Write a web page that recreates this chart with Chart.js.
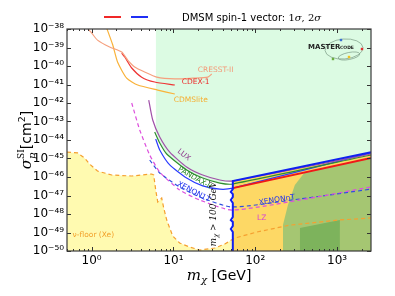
<!DOCTYPE html>
<html>
<head>
<meta charset="utf-8">
<script src="https://cdn.jsdelivr.net/npm/chart.js@4.4.1/dist/chart.umd.min.js"></script>
<style>
  html, body { margin: 0; padding: 0; background: #fff; }
</style>
</head>
<body>
<canvas id="chart" width="395" height="296"></canvas>
<script>
// axis ticks
const xTicks = [1, 10, 100, 1000];
const xTickLabels = ["10⁰", "10¹", "10²", "10³"];
const yTicks = [1e-50, 1e-49, 1e-48, 1e-47, 1e-46, 1e-45, 1e-44, 1e-43, 1e-42, 1e-41, 1e-40, 1e-39, 1e-38];
const yTickLabels = ["10⁻⁵⁰", "10⁻⁴⁹", "10⁻⁴⁸", "10⁻⁴⁷", "10⁻⁴⁶", "10⁻⁴⁵", "10⁻⁴⁴", "10⁻⁴³", "10⁻⁴²", "10⁻⁴¹", "10⁻⁴⁰", "10⁻³⁹", "10⁻³⁸"];

// experimental limits (mass in GeV, cross-section in cm^2)
const cresstMass = [0.89, 1.0, 1.18, 1.66, 2.33, 2.76, 3.36, 4.45, 6.25, 10.4, 17.2, 26.3, 29.4];
const cresstSigma = [1.1e-38, 6.1e-39, 2.5e-39, 1.06e-39, 5.7e-40, 2.1e-40, 8.8e-41, 4.7e-41, 2.5e-41, 2.0e-41, 2.2e-41, 2.5e-41, 3.7e-41];

const cdexMass = [2.33, 2.54, 3.09, 4.09, 5.9, 10.4];
const cdexSigma = [5.0e-40, 3.06e-40, 7.8e-41, 2.5e-41, 1.36e-41, 9.4e-42];

const cdmsMass = [1.48, 1.81, 2.08, 2.68, 3.66, 6.43, 10.4];
const cdmsSigma = [1.65e-38, 1.4e-39, 1.6e-40, 2.2e-41, 9.4e-42, 5.0e-42, 3.06e-42];

const luxMass = [4.99, 5.58, 6.8, 9.01, 14.5, 22.8, 36.9, 53.2, 2600];
const luxSigma = [1.45e-42, 1.2e-43, 1.45e-44, 2.2e-45, 3.5e-46, 1.28e-46, 6.9e-47, 6.1e-47, 1.75e-45];

const pandaMass = [5.9, 6.8, 8.28, 14.5, 22.8, 36.9, 53.2, 2600];
const pandaSigma = [2.7e-44, 6.9e-45, 1.75e-45, 2.4e-46, 8.8e-47, 4.7e-47, 4.2e-47, 1.55e-45];

const xe1tMass = [6.07, 6.8, 9.01, 14.5, 22.8, 36.9, 53.2, 2600];
const xe1tSigma = [1.13e-44, 2.9e-45, 4.5e-46, 8.8e-47, 3.3e-47, 2.2e-47, 2.5e-47, 2.0e-45];

// projected sensitivities
const lzMass = [3.09, 3.87, 5.13, 6.8, 11.9, 21.0, 51.7, 351, 2600];
const lzSigma = [1.0e-42, 3.5e-44, 1.55e-45, 1.86e-46, 2.0e-47, 5.7e-48, 1.64e-48, 5.7e-48, 2.9e-47];

const xentMass = [5.13, 6.8, 11.9, 21.0, 51.7, 351, 2600];
const xentSigma = [8.3e-46, 1.64e-46, 2.9e-47, 8.3e-48, 2.4e-48, 6.5e-48, 2.2e-47];

// neutrino floor (Xe)
const nuMass = [0.5, 0.674, 0.821, 0.945, 1.18, 1.76, 3.09, 5.42, 5.74, 6.07, 6.43, 6.8, 7.19, 7.61, 8.28, 9.8, 11.9, 15.8, 21.0, 32.0, 42.5, 56.3, 105, 265, 1026, 2600];
const nuSigma = [2.2e-45, 2.0e-45, 1.06e-45, 5.0e-46, 2.1e-46, 1.28e-46, 1.13e-46, 1.45e-46, 1.28e-46, 2.0e-47, 4.5e-48, 5.7e-48, 7.3e-48, 2.1e-48, 4.7e-49, 6.5e-50, 2.7e-50, 1.64e-50, 1.13e-50, 1.45e-50, 2.4e-50, 5.0e-50, 1.06e-49, 2.5e-49, 4.7e-49, 6.1e-49];

// region excluded by current experiments
const exclMass = [6.07, 6.8, 8.28, 14.5, 22.8, 36.9, 53.2, 2600];
const exclSigma = [3.06e-44, 6.9e-45, 1.75e-45, 2.4e-46, 8.8e-47, 4.7e-47, 6.1e-47, 2.2e-45];

// DMSM spin-1 vector: 2 sigma boundary and 1 sigma upper edge
const sig2Mass = [53.2, 53.2, 50.3, 53.2, 53.2, 50.3, 53.2, 53.2, 50.3, 53.2, 53.2, 50.3, 53.2, 53.2, 2600];
const sig2Sigma = [1e-50, 1.06e-49, 1.55e-49, 2.25e-49, 3.7e-49, 4.7e-49, 6.9e-49, 3.9e-48, 5.7e-48, 8.3e-48, 1.2e-47, 1.55e-47, 2.2e-47, 6.1e-47, 2.2e-45];
const sig1Mass = [53.2, 2600];
const sig1Sigma = [2.5e-47, 1.06e-45];

// green (best-fit) patch inside the 2 sigma region
const greenMass = [218, 218, 251, 305, 405, 2600];
const greenSigma = [1e-50, 2.5e-49, 3.1e-48, 3.7e-47, 1.86e-46, 1.06e-45];
const coreMass = [351, 351, 1084, 1084];
const coreSigma = [1e-50, 1.75e-49, 4.7e-49, 1e-50];

const notes = [
  { text: "CRESST-II", x: 19.8, y: 6.1e-41, color: "#f39a78", angle: 0, align: "left" },
  { text: "CDEX-1", x: 12.6, y: 1.36e-41, color: "#ec2a2a", angle: 0, align: "left" },
  { text: "CDMSlite", x: 10.1, y: 1.45e-42, color: "#f6ad2e", angle: 0, align: "left" },
  { text: "LUX", x: 13.4, y: 1.55e-45, color: "#8e3a8e", angle: 38, align: "center" },
  { text: "PANDAX-II", x: 18.2, y: 8.8e-47, color: "#2a8a2a", angle: 30, align: "center" },
  { text: "XENON1T", x: 17.7, y: 1.55e-47, color: "#2233ee", angle: 28, align: "center" },
  { text: "XENONnT", x: 184, y: 5.7e-48, color: "#2233ee", angle: -9, align: "center" },
  { text: "LZ", x: 120, y: 6.1e-49, color: "#d63fd6", angle: 0, align: "center" },
  { text: "ν-floor (Xe)", x: 0.585, y: 7.3e-50, color: "#f2a02a", angle: 0, align: "left" }
];

const pts = (xs, ys) => xs.map((x, i) => ({ x: x, y: ys[i] }));

function curve(label, xs, ys, color, extra) {
  return Object.assign({
    label: label, data: pts(xs, ys), borderColor: color, backgroundColor: color,
    borderWidth: 1.2, pointRadius: 0, fill: false, tension: 0.2, order: 5
  }, extra || {});
}

function region(label, xs, ys, color, target, order) {
  return {
    label: label, data: pts(xs, ys), borderColor: "rgba(0,0,0,0)", borderWidth: 1,
    backgroundColor: color, pointRadius: 0, fill: target, tension: 0, order: order
  };
}

const serif = "'DejaVu Serif', serif";
const sans = "'DejaVu Sans', sans-serif";

function richDraw(ctx, parts, x0, y0, measureOnly) {
  let x = x0, prevStart = x0;
  for (const p of parts) {
    ctx.font = p.font;
    const start = p.stack ? prevStart : x;
    if (!measureOnly) ctx.fillText(p.t, start, y0 + (p.dy || 0));
    x = Math.max(x, start + ctx.measureText(p.t).width);
    prevStart = start;
  }
  return x - x0;
}

function richCentered(ctx, parts, cx, y) {
  const w = richDraw(ctx, parts, 0, 0, true);
  richDraw(ctx, parts, cx - w / 2, y, false);
}

const overlay = {
  id: "overlay",
  afterDatasetsDraw(chart) {
    const ctx = chart.ctx;
    const xs = chart.scales.x, ys = chart.scales.y;
    ctx.save();
    ctx.textBaseline = "middle";
    notes.forEach((n) => {
      ctx.save();
      ctx.translate(xs.getPixelForValue(n.x), ys.getPixelForValue(n.y));
      ctx.rotate(n.angle * Math.PI / 180);
      ctx.fillStyle = n.color;
      ctx.font = "7.5px " + sans;
      ctx.textAlign = n.align;
      ctx.fillText(n.text, 0, 0);
      ctx.restore();
    });
    // vertical note for the mass cut
    ctx.save();
    ctx.translate(xs.getPixelForValue(33), ys.getPixelForValue(1.0e-48));
    ctx.rotate(-Math.PI / 2);
    ctx.fillStyle = "#111";
    ctx.textAlign = "left";
    ctx.textBaseline = "alphabetic";
    richCentered(ctx, [
      { t: "m", font: "italic 9px " + serif },
      { t: "χ", font: "italic 6.5px " + serif, dy: 2 },
      { t: " > 100 GeV", font: "italic 9px " + serif }
    ], 0, 0);
    ctx.restore();
    ctx.restore();
  },
  afterDraw(chart) {
    const ctx = chart.ctx;
    const a = chart.chartArea;
    const xs = chart.scales.x, ys = chart.scales.y;
    ctx.save();
    // inward tick marks
    ctx.strokeStyle = "#333";
    ctx.lineWidth = 1;
    ctx.beginPath();
    for (let k = -1; k <= 3; k++) {
      for (let m = 1; m <= 9; m++) {
        const v = m * Math.pow(10, k);
        if (v < xs.min || v > xs.max) continue;
        const px = Math.round(xs.getPixelForValue(v)) + 0.5;
        const len = m === 1 ? 4 : 2;
        ctx.moveTo(px, a.bottom); ctx.lineTo(px, a.bottom - len);
        ctx.moveTo(px, a.top); ctx.lineTo(px, a.top + len);
      }
    }
    yTicks.forEach((v) => {
      const py = Math.round(ys.getPixelForValue(v)) + 0.5;
      ctx.moveTo(a.left, py); ctx.lineTo(a.left + 4, py);
      ctx.moveTo(a.right, py); ctx.lineTo(a.right - 4, py);
    });
    ctx.stroke();
    ctx.strokeStyle = "#3a3a3a";
    ctx.lineWidth = 1.2;
    ctx.strokeRect(a.left, a.top, a.right - a.left, a.bottom - a.top);

    // axis titles
    ctx.fillStyle = "#000";
    ctx.textAlign = "left";
    ctx.textBaseline = "alphabetic";
    richCentered(ctx, [
      { t: "m", font: "italic 15px " + serif },
      { t: "χ", font: "italic 10px " + serif, dy: 3 },
      { t: " [GeV]", font: "14px " + sans }
    ], (a.left + a.right) / 2, 280);

    ctx.save();
    ctx.translate(31, (a.top + a.bottom) / 2);
    ctx.rotate(-Math.PI / 2);
    richCentered(ctx, [
      { t: "σ", font: "italic 15px " + serif },
      { t: "p", font: "italic 10px " + serif, dy: 4 },
      { t: "SI", font: "9px " + serif, dy: -7, stack: true },
      { t: "[cm", font: "14px " + sans },
      { t: "2", font: "9.5px " + sans, dy: -6 },
      { t: "]", font: "14px " + sans }
    ], 0, 0);
    ctx.restore();

    // legend
    ctx.lineWidth = 2;
    ctx.strokeStyle = "#f02828";
    ctx.beginPath(); ctx.moveTo(104, 17); ctx.lineTo(121, 17); ctx.stroke();
    ctx.strokeStyle = "#1f2ff5";
    ctx.beginPath(); ctx.moveTo(131, 17); ctx.lineTo(148, 17); ctx.stroke();
    richDraw(ctx, [
      { t: "DMSM spin-1 vector: ", font: "10px " + sans },
      { t: "1", font: "10px " + serif },
      { t: "σ", font: "italic 10px " + serif },
      { t: ", 2", font: "10px " + serif },
      { t: "σ", font: "italic 10px " + serif }
    ], 182, 21, false);

    // MasterCode logo
    const lx = a.right - 63, ly = a.top + 19;
    ctx.strokeStyle = "#7a9a84";
    ctx.lineWidth = 0.7;
    ctx.beginPath(); ctx.ellipse(lx + 36, ly + 1, 19, 10, -0.08, 0, Math.PI * 2); ctx.stroke();
    ctx.beginPath(); ctx.ellipse(lx + 41, ly + 8, 11, 3.5, -0.2, 0, Math.PI * 2); ctx.stroke();
    ctx.fillStyle = "#222";
    ctx.font = "bold 7px " + sans;
    ctx.fillText("MASTER", lx, ly + 1);
    ctx.font = "bold 4.5px " + sans;
    ctx.fillText("CODE", lx + 32, ly + 1);
    [["#3a6fd0", 33, -8], ["#e03030", 54, 1], ["#6bb040", 25, 11], ["#f0c020", 41, 9]].forEach((d) => {
      ctx.fillStyle = d[0];
      ctx.fillRect(lx + d[1] - 1.2, ly + d[2] - 1.2, 2.4, 2.4);
    });
    ctx.restore();
  }
};

new Chart(document.getElementById("chart"), {
  type: "line",
  data: {
    datasets: [
      region("excluded", exclMass, exclSigma, "#dcfbe3", "end", 30),
      region("nu-floor area", nuMass, nuSigma, "#fffab0", "start", 29),
      region("2 sigma area", sig2Mass, sig2Sigma, "#fdd865", "start", 28),
      region("1 sigma area", greenMass, greenSigma, "#a5c672", "start", 27),
      region("core", coreMass, coreSigma, "#7db35c", "start", 26),
      curve("CRESST-II", cresstMass, cresstSigma, "#f5a07e"),
      curve("CDEX-1", cdexMass, cdexSigma, "#ee3535"),
      curve("CDMSlite", cdmsMass, cdmsSigma, "#f9b23a"),
      curve("LUX", luxMass, luxSigma, "#a050a8"),
      curve("PandaX-II", pandaMass, pandaSigma, "#2f8f2f"),
      curve("XENON1T", xe1tMass, xe1tSigma, "#2a3cff"),
      curve("LZ", lzMass, lzSigma, "#dd50dd", { borderDash: [4, 3], order: 4 }),
      curve("XENONnT", xentMass, xentSigma, "#2f4fe0", { borderDash: [4, 3], order: 4 }),
      curve("nu-floor", nuMass, nuSigma, "#f5a030", { borderDash: [4, 3], tension: 0, order: 4 }),
      curve("1 sigma", sig1Mass, sig1Sigma, "#f01818", { borderWidth: 2, tension: 0, order: 2 }),
      curve("2 sigma", sig2Mass, sig2Sigma, "#1020f0", { borderWidth: 2, tension: 0, order: 1 })
    ]
  },
  options: {
    responsive: false,
    animation: false,
    layout: { padding: { left: 0, top: 29, right: 24, bottom: 0 } },
    plugins: { legend: { display: false }, tooltip: { enabled: false } },
    scales: {
      x: {
        type: "logarithmic", min: 0.5, max: 2600,
        grid: { display: false, drawTicks: false }, border: { display: false },
        ticks: {
          autoSkip: false, maxRotation: 0, padding: 3, color: "#000",
          font: { family: "DejaVu Sans", size: 12 },
          callback: (v, i) => xTickLabels[i]
        },
        afterBuildTicks: (s) => { s.ticks = xTicks.map((v) => ({ value: v })); },
        afterFit: (s) => { s.height = 45; }
      },
      y: {
        type: "logarithmic", min: 1e-50, max: 1e-38,
        grid: { display: false, drawTicks: false }, border: { display: false },
        ticks: {
          autoSkip: false, padding: 3, color: "#000",
          font: { family: "DejaVu Sans", size: 12 },
          callback: (v, i) => yTickLabels[i]
        },
        afterBuildTicks: (s) => { s.ticks = yTicks.map((v) => ({ value: v })); },
        afterFit: (s) => { s.width = 67; }
      }
    }
  },
  plugins: [overlay]
});
</script>
</body>
</html>
